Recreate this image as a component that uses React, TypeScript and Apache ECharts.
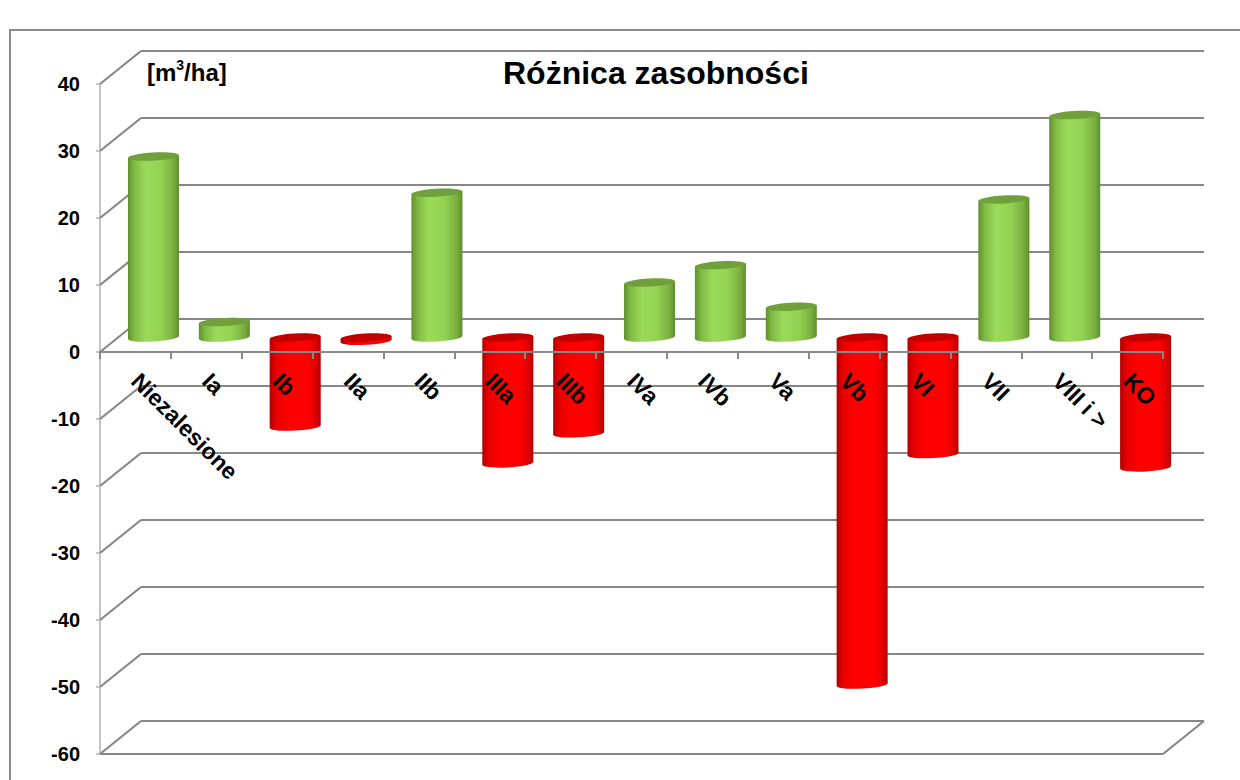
import React, { useEffect, useRef } from "react";
import * as echarts from "echarts";

const categories = ["Niezalesione", "Ia", "Ib", "IIa", "IIb", "IIIa", "IIIb", "IVa", "IVb", "Va", "Vb", "VI", "VII", "VIII i >", "KO"];
const values = [27.0, 2.3, -13.3, -0.5, 21.6, -18.8, -14.3, 8.2, 10.8, 4.6, -51.8, -17.4, 20.6, 33.2, -19.4];
const yTicks = [-60, -50, -40, -30, -20, -10, 0, 10, 20, 30, 40];
const titleText = "Różnica zasobności";
const unitText = "[m{sup|3}/ha]";

const DX = 41;
const DY = -33;
const DEPTH_F = 0.44;
const TILT = 0.055;
const FONT = "'Liberation Sans', Arial, sans-serif";
const GRID = { left: 100, right: 77, top: 84, bottom: 26 };

export default function App() {
  const ref = useRef<HTMLDivElement>(null);
  useEffect(() => {
    if (!ref.current) return;
    const chart = echarts.init(ref.current, undefined, { renderer: "svg" });
    const yMin = yTicks[0];
    const yMax = yTicks[yTicks.length - 1];
    const gridStroke = { stroke: "#878787", lineWidth: 2.2 };
    const gridH = 780 - GRID.top - GRID.bottom;
    const zeroOffset = -((0 - yMin) / (yMax - yMin)) * gridH;

    const option: any = {
      animation: false,
      backgroundColor: "#ffffff",
      textStyle: { fontFamily: FONT },
      title: {
        text: titleText,
        left: 503,
        top: 57,
        padding: 0,
        textStyle: { fontSize: 32, fontWeight: "bold", color: "#000", fontFamily: FONT },
      },
      graphic: [
        {
          type: "rect",
          z: -10,
          silent: true,
          shape: { x: 10, y: 30, width: 1300, height: 800 },
          style: { fill: "none", stroke: "#8c8c8c", lineWidth: 2 },
        },
        {
          type: "text",
          left: 147,
          top: 58,
          z: 10,
          style: {
            text: unitText,
            fontSize: 24,
            fontWeight: "bold",
            fontFamily: FONT,
            fill: "#000",
            lineHeight: 28,
            rich: {
              sup: { fontSize: 14, fontWeight: "bold", fontFamily: FONT, verticalAlign: "top", lineHeight: 28, fill: "#000" },
            },
          },
        },
      ],
      grid: { ...GRID, outerBoundsMode: "none", containLabel: false },
      xAxis: {
        type: "category",
        data: categories,
        z: 5,
        position: "bottom",
        offset: zeroOffset,
        axisLine: { onZero: false, lineStyle: { color: "#8a8a8a", width: 2 } },
        axisTick: { show: true, length: 7, alignWithLabel: false, lineStyle: { color: "#8a8a8a", width: 2 } },
        axisLabel: {
          interval: 0,
          rotate: -45,
          margin: 25,
          fontSize: 23,
          fontWeight: "bold",
          color: "#000",
          fontFamily: FONT,
        },
        splitLine: { show: false },
      },
      yAxis: {
        type: "value",
        min: yMin,
        max: yMax,
        interval: 10,
        axisLine: { show: true, lineStyle: { color: "#c4c4c4", width: 2 } },
        axisTick: { show: true, length: 4, lineStyle: { color: "#c4c4c4", width: 2 } },
        axisLabel: { margin: 20, fontSize: 20, fontWeight: "bold", color: "#000", fontFamily: FONT },
        splitLine: { show: false },
      },
      series: [
        {
          type: "custom",
          name: "walls",
          z: 1,
          silent: true,
          data: yTicks.map((v) => [0, v]),
          encode: { x: 0, y: 1 },
          renderItem: (params: any, api: any) => {
            const v = api.value(1);
            const p = api.coord([0, v]);
            const cs = params.coordSys;
            const L = cs.x;
            const R = cs.x + cs.width;
            const y = p[1];
            const children: any[] = [
              { type: "line", shape: { x1: L + DX, y1: y + DY, x2: R + DX, y2: y + DY }, style: gridStroke },
              { type: "line", shape: { x1: L, y1: y, x2: L + DX, y2: y + DY }, style: gridStroke },
            ];
            if (v === yMin) {
              children.push({ type: "line", shape: { x1: L, y1: y, x2: R, y2: y }, style: gridStroke });
              children.push({ type: "line", shape: { x1: R, y1: y, x2: R + DX, y2: y + DY }, style: gridStroke });
            }
            return { type: "group", children };
          },
        },
        {
          type: "custom",
          name: "Różnica zasobności",
          z: 2,
          data: values.map((v, i) => [i, v]),
          encode: { x: 0, y: 1 },
          renderItem: (params: any, api: any) => {
            const idx = api.value(0);
            const v = api.value(1);
            const p0 = api.coord([idx, 0]);
            const p1 = api.coord([idx, v]);
            const band = api.size([1, 0])[0];
            const rx = band * 0.36;
            const ry = 4;
            const cx = p0[0] + DX * DEPTH_F;
            const ya = p0[1] + DY * DEPTH_F;
            const yb = p1[1] + DY * DEPTH_F;
            const top = Math.min(ya, yb);
            const bot = Math.max(ya, yb);
            const pos = v >= 0;
            const s = rx * Math.sin(TILT);
            const stops = pos
              ? [
                  { offset: 0, color: "#5f8f2c" },
                  { offset: 0.12, color: "#80b844" },
                  { offset: 0.35, color: "#9cdb5a" },
                  { offset: 0.65, color: "#93d152" },
                  { offset: 0.88, color: "#7bb03e" },
                  { offset: 1, color: "#5f8f2c" },
                ]
              : [
                  { offset: 0, color: "#b00000" },
                  { offset: 0.12, color: "#e60000" },
                  { offset: 0.35, color: "#ff0000" },
                  { offset: 0.75, color: "#ff0000" },
                  { offset: 0.9, color: "#e00000" },
                  { offset: 1, color: "#b30000" },
                ];
            const body = new echarts.graphic.LinearGradient(0, 0, 1, 0, stops);
            const topColor = pos ? "#70a03b" : "#c30000";
            return {
              type: "group",
              children: [
                { type: "ellipse", x: cx, y: bot, rotation: TILT, shape: { cx: 0, cy: 0, rx, ry }, style: { fill: body } },
                {
                  type: "polygon",
                  shape: {
                    points: [
                      [cx - rx, top + s],
                      [cx + rx, top - s],
                      [cx + rx, bot - s],
                      [cx - rx, bot + s],
                    ],
                  },
                  style: { fill: body },
                },
                { type: "ellipse", x: cx, y: top, rotation: TILT, shape: { cx: 0, cy: 0, rx, ry }, style: { fill: topColor } },
              ],
            };
          },
        },
      ],
    };
    chart.setOption(option);
    return () => chart.dispose();
  }, []);
  return <div ref={ref} style={{ position: "absolute", left: 0, top: 0, width: 1240, height: 780 }} />;
}
